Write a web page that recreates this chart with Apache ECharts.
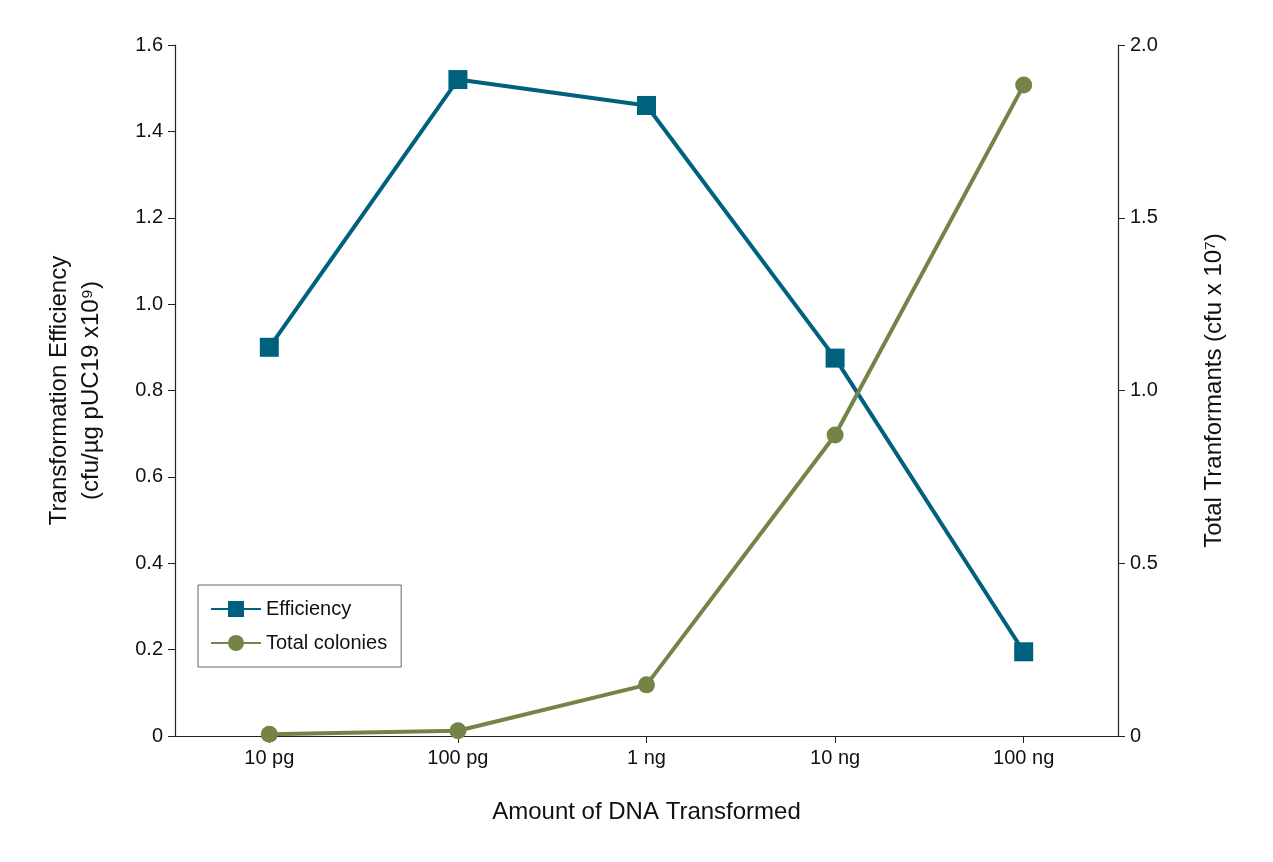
<!DOCTYPE html>
<html>
<head>
<meta charset="utf-8">
<script src="https://cdn.jsdelivr.net/npm/echarts@6/dist/echarts.min.js"></script>
<style>
  html, body { margin: 0; padding: 0; background: #fff; }
  #chart { width: 1273px; height: 862px; }
</style>
</head>
<body>
<div id="chart"></div>
<script>
var categories = ['10 pg', '100 pg', '1 ng', '10 ng', '100 ng'];
var efficiency = [0.9, 1.52, 1.46, 0.875, 0.195];
var totalColonies = [0.005, 0.015, 0.148, 0.871, 1.884];
var leftTicks = ['0', '0.2', '0.4', '0.6', '0.8', '1.0', '1.2', '1.4', '1.6'];
var rightTicks = ['0', '0.5', '1.0', '1.5', '2.0'];

var BLUE = '#00617f',
    OLIVE = '#748447',
    FONT = 'Liberation Sans, Arial, sans-serif';

var chart = echarts.init(document.getElementById('chart'));

var axisLine = { show: true, lineStyle: { color: '#222', width: 1.2 } };
var tick = { show: true, inside: false, length: 7, lineStyle: { color: '#222' } };
var label = { color: '#111', fontSize: 20, fontFamily: FONT, margin: 12 };

var option = {
  backgroundColor: '#fff',
  grid: { left: 175, right: 155, top: 45, bottom: 126 },
  legend: {
    left: 198, top: 585, orient: 'vertical',
    padding: [14, 14, 14, 12], itemGap: 14,
    itemWidth: 50, itemHeight: 20,
    borderColor: '#666', borderWidth: 1,
    textStyle: { fontSize: 20, fontFamily: FONT, color: '#111' },
    data: ['Efficiency', 'Total colonies']
  },
  xAxis: {
    type: 'category',
    data: categories,
    boundaryGap: true,
    axisLine: axisLine,
    axisTick: { show: true, alignWithLabel: true, length: 7, lineStyle: { color: '#222' } },
    axisLabel: label,
    name: 'Amount of DNA Transformed',
    nameLocation: 'middle', nameGap: 64,
    nameTextStyle: { fontSize: 24, fontFamily: FONT, color: '#111' }
  },
  yAxis: [{
    type: 'value', min: 0, max: 1.6, interval: 0.2,
    axisLine: axisLine, axisTick: tick, splitLine: { show: false },
    axisLabel: Object.assign({}, label, {
      formatter: function(v) { return leftTicks[Math.round(v / 0.2)]; }
    }),
    name: 'Transformation Efficiency\n(cfu/µg pUC19 x10⁹)',
    nameLocation: 'middle', nameGap: 68, nameRotate: 90,
    nameTextStyle: { fontSize: 24, fontFamily: FONT, color: '#111', lineHeight: 32 }
  }, {
    type: 'value', min: 0, max: 2, interval: 0.5, position: 'right',
    axisLine: axisLine, axisTick: tick, splitLine: { show: false },
    axisLabel: Object.assign({}, label, {
      formatter: function(v) { return rightTicks[Math.round(v / 0.5)]; }
    }),
    name: 'Total Tranformants (cfu x 10⁷)',
    nameLocation: 'middle', nameGap: 84, nameRotate: 90,
    nameTextStyle: { fontSize: 24, fontFamily: FONT, color: '#111' }
  }],
  series: [{
    name: 'Efficiency', type: 'line', yAxisIndex: 0,
    data: efficiency, symbol: 'rect', symbolSize: 19,
    lineStyle: { color: BLUE, width: 4 },
    itemStyle: { color: BLUE }
  }, {
    name: 'Total colonies', type: 'line', yAxisIndex: 1,
    data: totalColonies, symbol: 'circle', symbolSize: 17,
    lineStyle: { color: OLIVE, width: 4 },
    itemStyle: { color: OLIVE }
  }]
};

chart.setOption(option);
</script>
</body>
</html>
